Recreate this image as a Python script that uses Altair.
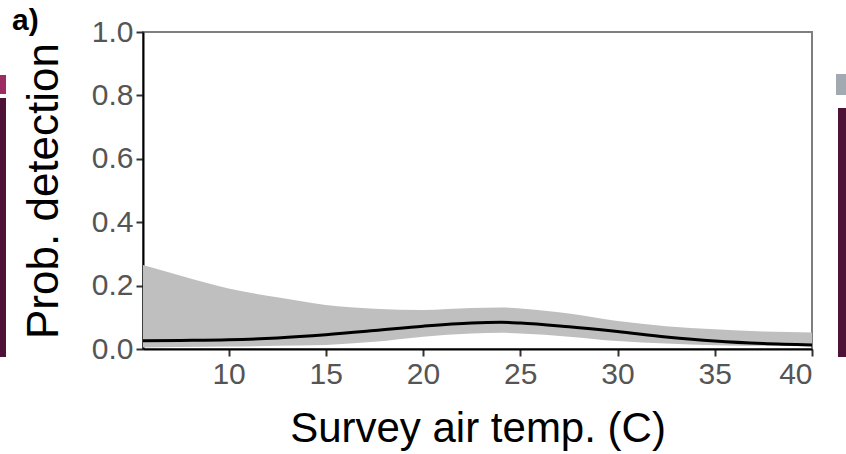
import altair as alt
import pandas as pd

# Fitted detection probability vs survey air temperature, with 95% band
temp = [5.6, 7.5, 10, 12.5, 15, 17.5, 20, 22.5, 24, 25, 27.5, 30, 32.5, 35, 37.5, 40]
mean = [0.026, 0.027, 0.029, 0.035, 0.045, 0.058, 0.072, 0.082, 0.084, 0.082, 0.070, 0.055, 0.038, 0.025, 0.017, 0.013]
upper = [0.265, 0.232, 0.191, 0.163, 0.139, 0.127, 0.123, 0.129, 0.131, 0.128, 0.112, 0.088, 0.072, 0.062, 0.055, 0.052]
lower = [0.005, 0.006, 0.008, 0.010, 0.013, 0.023, 0.039, 0.049, 0.051, 0.049, 0.039, 0.025, 0.017, 0.012, 0.010, 0.009]

x_ticks = [10, 15, 20, 25, 30, 35, 40]
y_ticks = [0.0, 0.2, 0.4, 0.6, 0.8, 1.0]

df = pd.DataFrame({"temp": temp, "mean": mean, "upper": upper, "lower": lower})

FONT = "Liberation Sans"

x_enc = alt.X(
    "temp:Q",
    scale=alt.Scale(domain=[5.6, 40], nice=False, zero=False),
    axis=alt.Axis(
        title="Survey air temp. (C)",
        values=x_ticks,
        titleBaseline="alphabetic",
        titleFontSize=42,
        titleY=92,
    ),
)
y_scale = alt.Scale(domain=[0, 1], nice=False)

band = alt.Chart(df).mark_area(color="#bfbfbf", interpolate="monotone").encode(
    x=x_enc,
    y=alt.Y(
        "upper:Q",
        scale=y_scale,
        axis=alt.Axis(
            title="Prob. detection",
            values=y_ticks,
            format=".1f",
            titleBaseline="alphabetic",
            titleFontSize=44,
            titleX=-86,
        ),
    ),
    y2="lower:Q",
)

line = alt.Chart(df).mark_line(color="black", strokeWidth=3, interpolate="monotone").encode(
    x="temp:Q",
    y=alt.Y("mean:Q", scale=y_scale),
)

# Panel tag and slivers of the neighbouring panels
one = pd.DataFrame({"k": [0]})
tag = alt.Chart(one).mark_text(
    text="a)", font=FONT, fontSize=30, fontWeight="bold", align="left", baseline="alphabetic", color="black"
).encode(x=alt.value(-131), y=alt.value(-2))

def sliver(x0, x1, y0, y1, color):
    return alt.Chart(one).mark_rect(color=color).encode(
        x=alt.value(x0), x2=alt.value(x1), y=alt.value(y0), y2=alt.value(y1)
    )

slivers = [
    sliver(-143, -137, 43, 62, "#9b2d62"),
    sliver(-143, -137, 66, 325, "#4e1237"),
    sliver(693, 703, 42, 63, "#a2a9b1"),
    sliver(695, 703, 76, 325, "#4e1237"),
]

chart = (
    alt.layer(band, line, tag, *slivers)
    .properties(
        width=669,
        height=317,
        autosize=alt.AutoSizeParams(type="none"),
        padding={"left": 143, "top": 32, "right": 34, "bottom": 105},
        background="white",
    )
    .configure_view(stroke="#7f7f7f", strokeWidth=2)
    .configure_axis(
        grid=False,
        domainColor="black",
        domainWidth=2,
        tickColor="#333333",
        tickWidth=2,
        tickSize=7,
        labelColor="#555555",
        labelFont=FONT,
        labelFontSize=30,
        labelPadding=3,
        titleFont=FONT,
        titleFontWeight="normal",
        titleColor="black",
    )
)

chart.save("out.html", embed_options={"renderer": "svg", "actions": False})
